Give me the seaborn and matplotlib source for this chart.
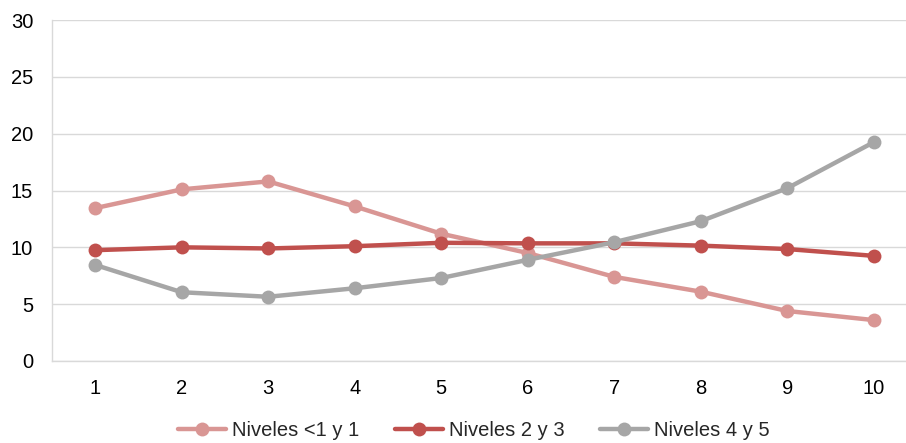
import numpy as np
import pandas as pd
import matplotlib
matplotlib.use("Agg")
import matplotlib.pyplot as plt
import seaborn as sns
from matplotlib.ticker import FixedLocator

categories = [1, 2, 3, 4, 5, 6, 7, 8, 9, 10]
niveles_1 = [13.45, 15.1, 15.8, 13.6, 11.2, 9.5, 7.4, 6.1, 4.4, 3.6]
niveles_23 = [9.75, 10.0, 9.9, 10.1, 10.4, 10.35, 10.35, 10.15, 9.85, 9.25]
niveles_45 = [8.45, 6.05, 5.65, 6.4, 7.3, 8.9, 10.45, 12.3, 15.2, 19.25]
series_names = ["Niveles <1 y 1", "Niveles 2 y 3", "Niveles 4 y 5"]
colors = ["#D99694", "#C0504D", "#A6A6A6"]
y_ticks = [0, 5, 10, 15, 20, 25, 30]

sns.set_style("white")
plt.rcParams["font.family"] = ["Liberation Sans", "DejaVu Sans"]

df = pd.DataFrame({
    "x": categories * 3,
    "y": niveles_1 + niveles_23 + niveles_45,
    "serie": sum([[n] * len(categories) for n in series_names], []),
})

fig = plt.figure(figsize=(9.06, 4.43), dpi=100)
ax = fig.add_axes([52 / 906, 1 - 361 / 443, (917 - 52) / 906, (361 - 20) / 443])

sns.lineplot(data=df, x="x", y="y", hue="serie", hue_order=series_names,
             palette=colors, marker="o", markersize=10, markeredgewidth=0,
             linewidth=3.2, ax=ax, legend=True)

fs = 14.5
ax.set_xlim(0.5, 10.5)
ax.set_ylim(0, 30)
ax.set_yticks(y_ticks)
ax.set_xticks(categories)
ax.set_xticklabels([str(c) for c in categories])
ax.xaxis.set_minor_locator(FixedLocator(np.arange(0.5, 11, 1)))
ax.tick_params(axis="x", which="major", length=0, labelsize=fs, pad=13, colors="black")
ax.tick_params(axis="x", which="minor", length=5, width=1, color="#D9D9D9")
ax.tick_params(axis="y", length=0, labelsize=fs, pad=13.5, colors="black")
ax.grid(axis="y", color="#D9D9D9", linewidth=1)
ax.set_axisbelow(True)
for s in ["top", "right"]:
    ax.spines[s].set_visible(False)
for s in ["left", "bottom"]:
    ax.spines[s].set_color("#D9D9D9")
    ax.spines[s].set_linewidth(1)
ax.set_xlabel("")
ax.set_ylabel("")

handles, labels = ax.get_legend_handles_labels()
leg = ax.legend(handles, labels, loc="center",
                bbox_to_anchor=((474 - 52) / 865, (361 - 431) / 341),
                ncol=3, frameon=False, fontsize=fs, handlelength=2.4,
                handletextpad=0.3, columnspacing=1.75, borderpad=0)

fig.savefig("out.png", dpi=100)
